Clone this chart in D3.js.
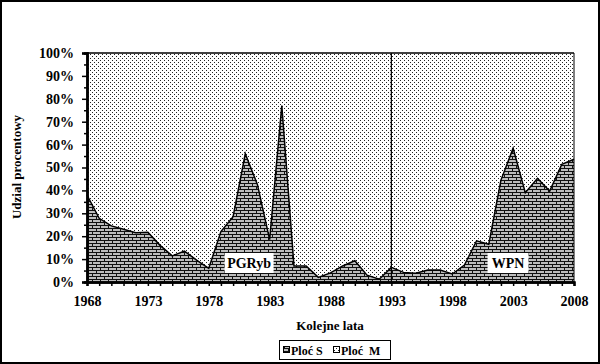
<!DOCTYPE html>
<html><head><meta charset="utf-8">
<script src="https://cdn.jsdelivr.net/npm/d3@7"></script>
<style>body{margin:0;background:#fff}svg{display:block}text{font-family:"Liberation Serif","Times New Roman",serif;font-weight:bold;fill:#000}</style>
</head><body><svg id="c" width="600" height="364"></svg>
<script>
const years = d3.range(1968, 2009);
const ploćS = [38,27.8,24.5,23,21.5,21.7,16,11.4,13.5,9.6,6,22,28.5,56,42.5,18.5,77,7,7,2,4,7,9.3,3,1.2,6.4,4.2,3.8,5.2,5.2,3.5,7.4,18,16.5,44.5,58.4,39,45.3,39.7,51.4,53.6];
const yTicks = [0,10,20,30,40,50,60,70,80,90,100];
const xTickLabels = [1968,1973,1978,1983,1988,1993,1998,2003,2008];
const seriesNames = ["Ploć S","Ploć  M"];
const divider = 1993;
const annotations = [{label:"PGRyb", year:1979.3, w:49},{label:"WPN", year:2000.9, w:41}];

const svg = d3.select("#c");
const L=87, R=574, T=53, B=282;
const x = d3.scaleLinear().domain([1968,2008]).range([L,R]);
const y = d3.scaleLinear().domain([0,100]).range([B,T]);

const defs = svg.append("defs");
const dots = defs.append("pattern").attr("id","dots").attr("width",4).attr("height",4).attr("patternUnits","userSpaceOnUse");
dots.append("rect").attr("width",4).attr("height",4).attr("fill","#fff");
dots.append("rect").attr("x",0).attr("y",0).attr("width",1).attr("height",1).attr("fill","#222");
dots.append("rect").attr("x",2).attr("y",2).attr("width",1).attr("height",1).attr("fill","#222");
const brick = defs.append("pattern").attr("id","brick").attr("width",8).attr("height",6).attr("patternUnits","userSpaceOnUse");
brick.append("rect").attr("width",8).attr("height",6).attr("fill","#bdbdbd");
brick.append("rect").attr("x",0).attr("y",0).attr("width",8).attr("height",1).attr("fill","#111");
brick.append("rect").attr("x",0).attr("y",3).attr("width",8).attr("height",1).attr("fill","#111");
brick.append("rect").attr("x",0).attr("y",1).attr("width",1).attr("height",2).attr("fill","#111");
brick.append("rect").attr("x",4).attr("y",4).attr("width",1).attr("height",2).attr("fill","#111");

// outer frame
svg.append("rect").attr("x",1).attr("y",1).attr("width",598).attr("height",362).attr("fill","none").attr("stroke","#000").attr("stroke-width",2);

// M area (top, full)
svg.append("path").datum(years).attr("fill","url(#dots)")
  .attr("d", d3.area().x(d=>x(d)).y0(d=>y(0)).y1(d=>y(100)));
// S area
const data = years.map((yr,i)=>({yr, v:ploćS[i]}));
svg.append("path").datum(data).attr("fill","url(#brick)")
  .attr("d", d3.area().x(d=>x(d.yr)).y0(y(0)).y1(d=>y(d.v)));
svg.append("path").datum(data).attr("fill","none").attr("stroke","#000").attr("stroke-width",1.5).attr("stroke-linejoin","miter")
  .attr("d", d3.line().x(d=>x(d.yr)).y(d=>y(d.v)));

// plot border top/right
svg.append("line").attr("x1",L).attr("x2",R).attr("y1",T).attr("y2",T).attr("stroke","#000").attr("stroke-width",1.5);
svg.append("line").attr("x1",R).attr("x2",R).attr("y1",T).attr("y2",B).attr("stroke","#000").attr("stroke-width",1);
// divider
svg.append("line").attr("x1",x(divider)).attr("x2",x(divider)).attr("y1",T).attr("y2",B).attr("stroke","#000").attr("stroke-width",1.2);

// annotations
annotations.forEach(a=>{
  const cx = x(a.year)+a.w/2;
  svg.append("rect").attr("x",x(a.year)).attr("y",253).attr("width",a.w).attr("height",20).attr("fill","#fff");
  svg.append("text").attr("x",cx).attr("y",268).attr("text-anchor","middle").attr("font-size",14).text(a.label);
});

// axes
svg.append("g").attr("transform",`translate(${L},0)`)
  .call(d3.axisLeft(y).tickValues(yTicks).tickFormat(d=>d+"%").tickSize(5).tickPadding(8));
svg.append("g").attr("transform",`translate(${L},0)`)
  .call(d3.axisLeft(y).tickValues(d3.range(5,100,10)).tickFormat("").tickSize(3));
svg.append("g").attr("transform",`translate(0,${B})`)
  .call(d3.axisBottom(x).tickValues(years).tickFormat("").tickSize(4));
svg.append("g").attr("transform",`translate(0,${B})`)
  .call(d3.axisBottom(x).tickValues(xTickLabels).tickFormat(d=>d).tickSize(0).tickPadding(14));
svg.selectAll(".domain").attr("stroke","#000").attr("stroke-width",2.5);
svg.selectAll(".tick line").attr("stroke","#000").attr("stroke-width",1.5);
svg.selectAll(".tick text").attr("font-size",14).attr("font-family","Liberation Serif").attr("font-weight","bold").attr("fill","#000");

// titles
svg.append("text").attr("x",330).attr("y",330).attr("text-anchor","middle").attr("font-size",13).text("Kolejne lata");
svg.append("text").attr("transform","translate(21,167) rotate(-90)").attr("text-anchor","middle").attr("font-size",13).text("Udzial procentowy");

// legend
svg.append("rect").attr("x",279.5).attr("y",340.5).attr("width",111).attr("height",19).attr("fill","#fff").attr("stroke","#000");
const leg = [{x:283, fill:"url(#brick)"},{x:333, fill:"url(#dots)"}];
leg.forEach((l,i)=>{
  svg.append("rect").attr("x",l.x+0.5).attr("y",346.5).attr("width",6).attr("height",6).attr("fill",l.fill).attr("stroke","#000");
  svg.append("text").attr("x",l.x+8).attr("y",355).attr("font-size",12).attr("xml:space","preserve").text(seriesNames[i]);
});
</script></body></html>
